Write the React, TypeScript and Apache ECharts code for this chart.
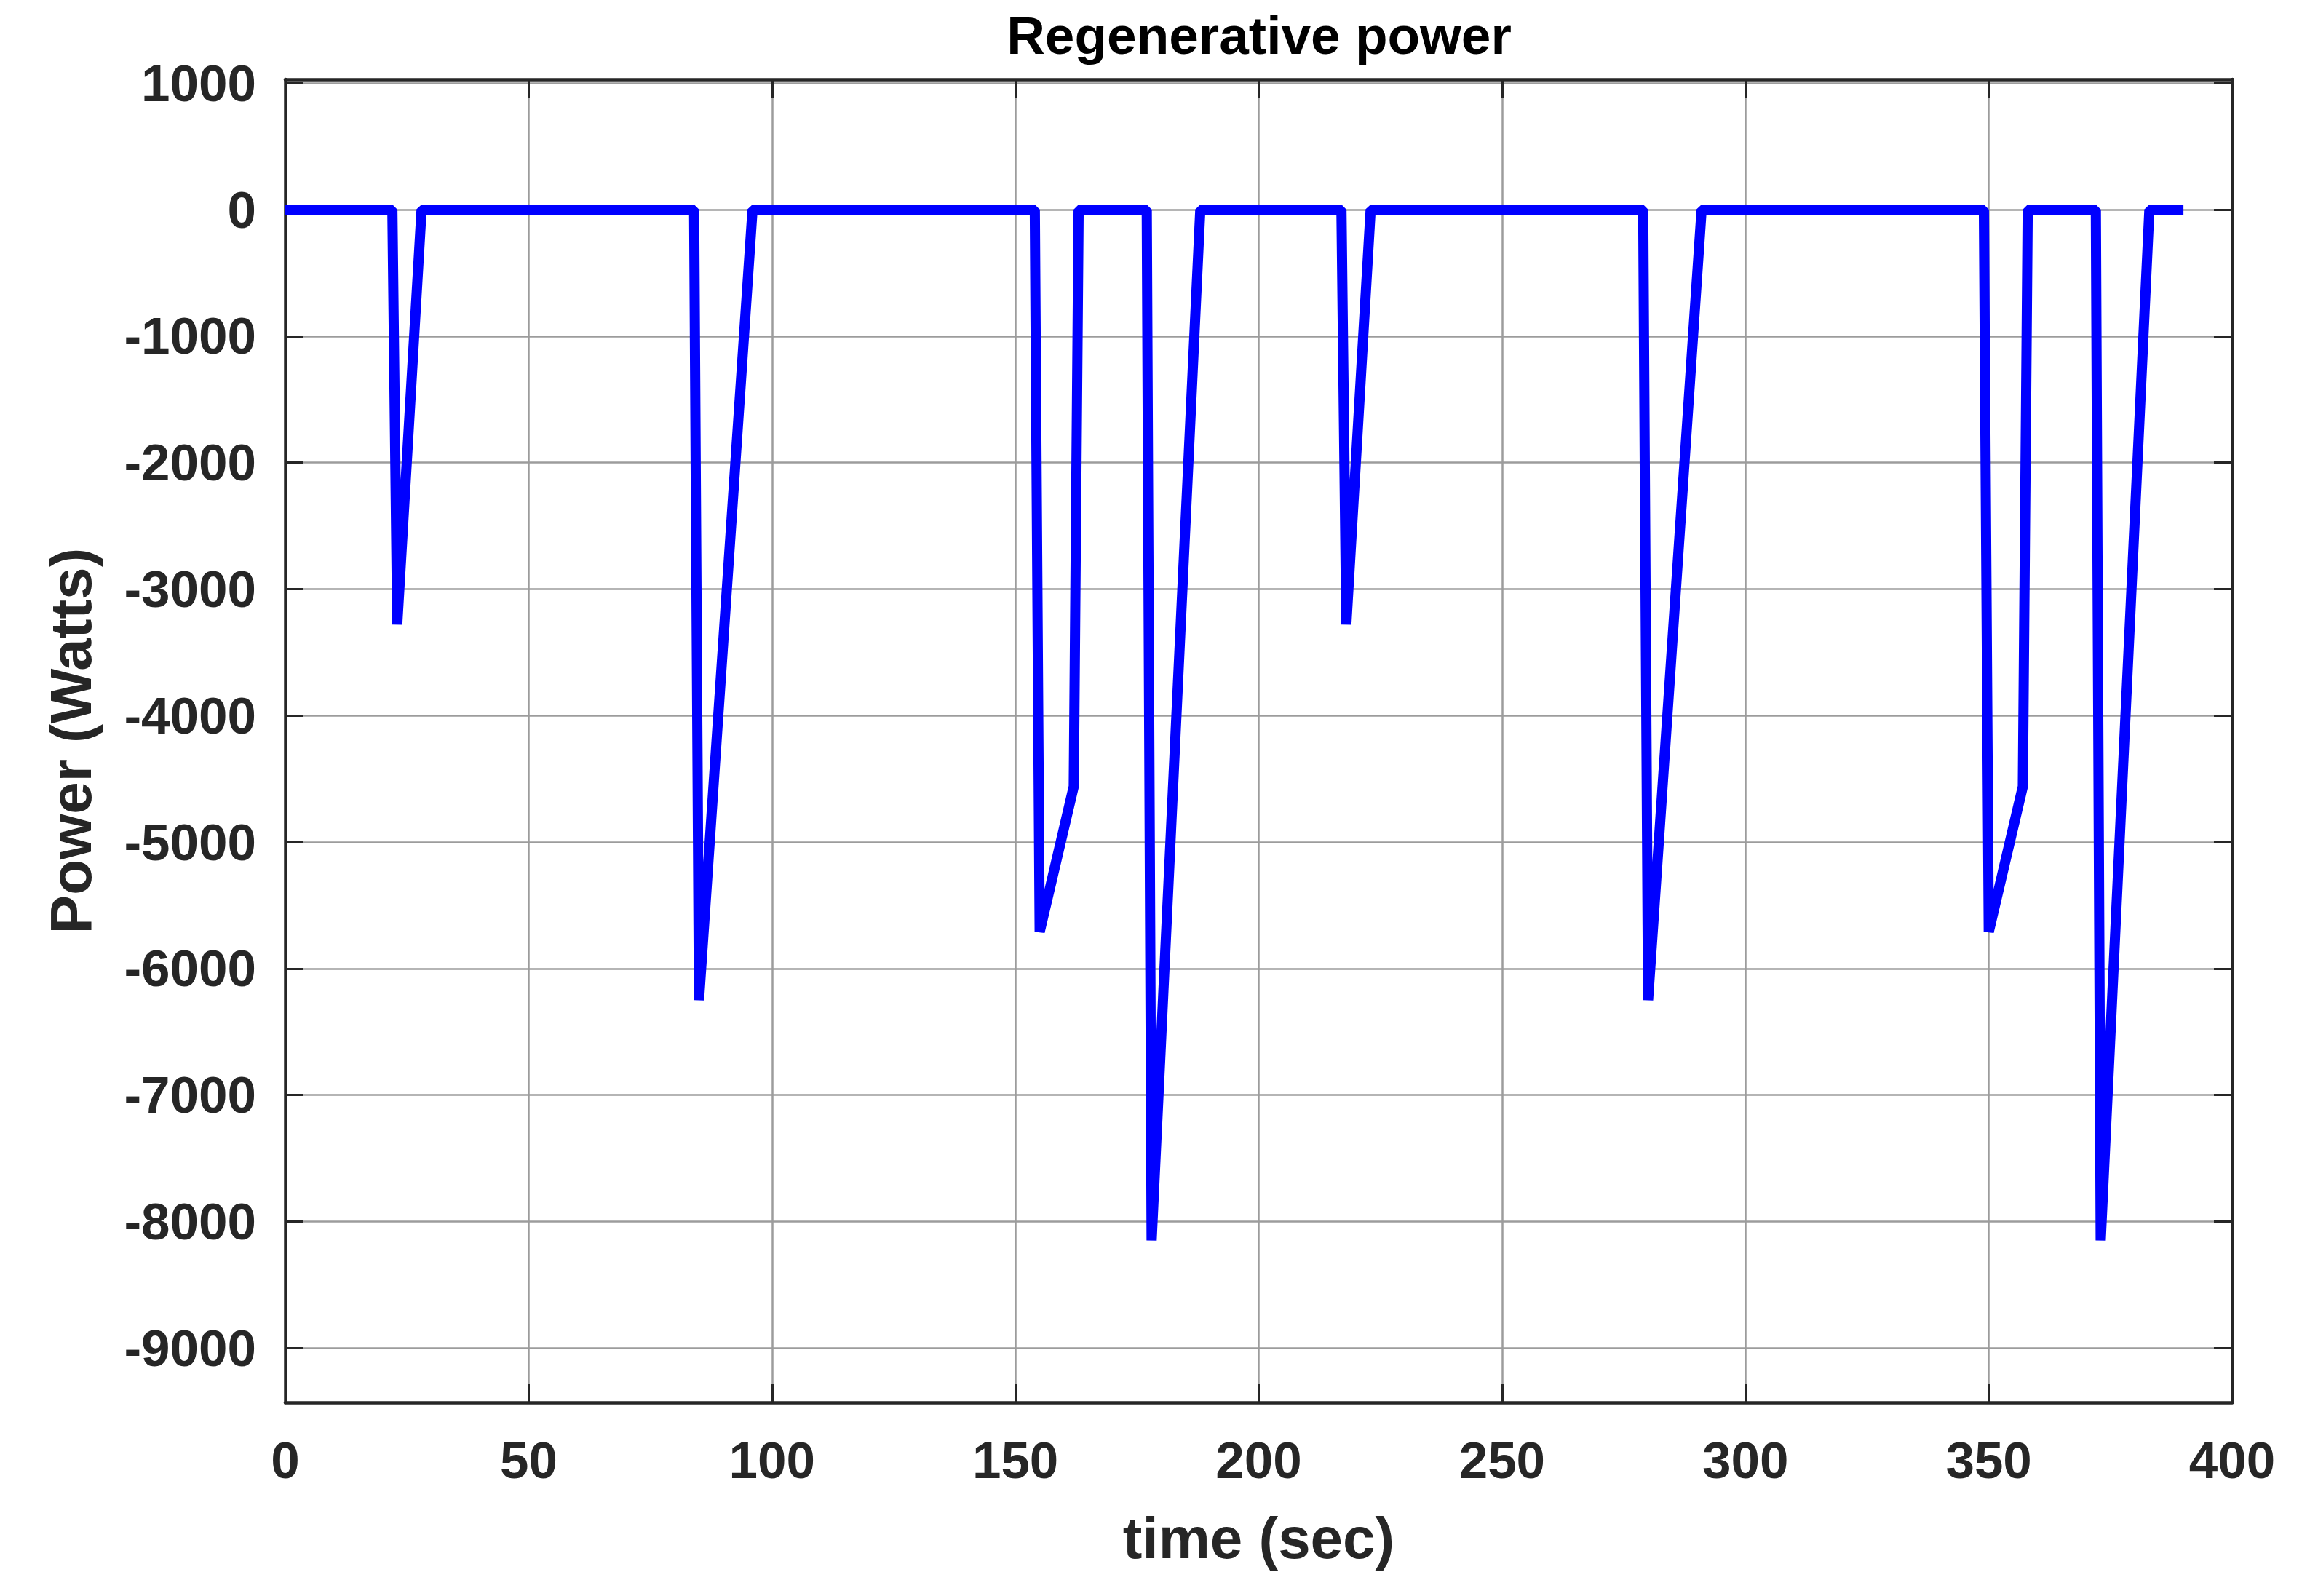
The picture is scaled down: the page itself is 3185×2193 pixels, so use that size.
import { useEffect, useRef } from 'react'
import * as echarts from 'echarts'

// two ECE-15 cycles, regen power is only non-zero during the decelerations
const timeSec = [0, 22, 23, 28, 84, 85, 96, 154, 155, 162, 163, 177, 178, 188,
  217, 218, 223, 279, 280, 291, 349, 350, 357, 358, 372, 373, 383, 390]
const powerW = [0, 0, -3280, 0, 0, -6250, 0, 0, -5710, -4560, 0, 0, -8150, 0,
  0, -3280, 0, 0, -6250, 0, 0, -5710, -4560, 0, 0, -8150, 0, 0]

const xTicks = { min: 0, max: 400, step: 50 }
const yTicks = { min: -9430, max: 1030, step: 1000 }

const FONT = '"Liberation Sans", Arial, Helvetica, sans-serif'
const AXIS = '#262626'
const GRID = '#9c9c9c'

export default function App() {
  const ref = useRef<HTMLDivElement>(null)

  useEffect(() => {
    if (!ref.current) return
    const chart = echarts.init(ref.current, null, { renderer: 'svg' })

    const tickLabel = {
      color: AXIS, fontSize: 71, fontWeight: 'bold' as const, fontFamily: FONT,
    }
    const nameStyle = {
      color: AXIS, fontSize: 80, fontWeight: 'bold' as const, fontFamily: FONT,
    }
    const line = { show: true, onZero: false, lineStyle: { color: AXIS, width: 4.5 } }
    const tick = { show: true, inside: true, length: 25, lineStyle: { color: AXIS, width: 3 } }

    const xBase = { type: 'value' as const, min: xTicks.min, max: xTicks.max, interval: xTicks.step }
    // min/max are not multiples of the step, so pin the step with min/maxInterval
    const yBase = {
      type: 'value' as const, min: yTicks.min, max: yTicks.max,
      minInterval: yTicks.step, maxInterval: yTicks.step, splitNumber: 10,
    }

    chart.setOption({
      animation: false,
      backgroundColor: '#ffffff',
      grid: { left: 392, right: 118, top: 109, bottom: 266, containLabel: false, outerBoundsMode: 'none' },
      graphic: [{
        type: 'text',
        x: 1730, y: 48,
        style: {
          text: 'Regenerative power',
          fill: '#000000',
          fontSize: 73, fontWeight: 'bold', fontFamily: FONT,
          align: 'center', verticalAlign: 'middle',
          textAlign: 'center', textVerticalAlign: 'middle',
        },
      }],
      xAxis: [
        {
          ...xBase,
          position: 'bottom',
          name: 'time (sec)',
          nameLocation: 'middle',
          nameGap: 146,
          nameTextStyle: nameStyle,
          axisLine: line,
          axisTick: tick,
          axisLabel: { ...tickLabel, margin: 44, formatter: (v: number) => String(v) },
          splitLine: { show: true, lineStyle: { color: GRID, width: 2.5 } },
        },
        {
          ...xBase,
          position: 'top',
          axisLine: line,
          axisTick: tick,
          axisLabel: { show: false },
          splitLine: { show: false },
        },
      ],
      yAxis: [
        {
          ...yBase,
          position: 'left',
          name: 'Power (Watts)',
          nameLocation: 'middle',
          nameRotate: 90,
          nameGap: 255,
          nameTextStyle: nameStyle,
          axisLine: line,
          axisTick: tick,
          axisLabel: {
            ...tickLabel, margin: 40, showMinLabel: false, showMaxLabel: false,
            formatter: (v: number) => String(v),
          },
          splitLine: { show: true, lineStyle: { color: GRID, width: 2.5 } },
        },
        {
          ...yBase,
          position: 'right',
          axisLine: line,
          axisTick: tick,
          axisLabel: { show: false },
          splitLine: { show: false },
        },
      ],
      series: [{
        type: 'line',
        data: timeSec.map((t, i) => [t, powerW[i]]),
        showSymbol: false,
        symbol: 'none',
        lineStyle: { color: '#0000ff', width: 14, join: 'bevel', cap: 'butt' },
        z: 5,
      }],
    })

    return () => { chart.dispose() }
  }, [])

  return (
    <div
      ref={ref}
      style={{ position: 'fixed', left: 0, top: 0, width: 3185, height: 2193, background: '#fff' }}
    />
  )
}
